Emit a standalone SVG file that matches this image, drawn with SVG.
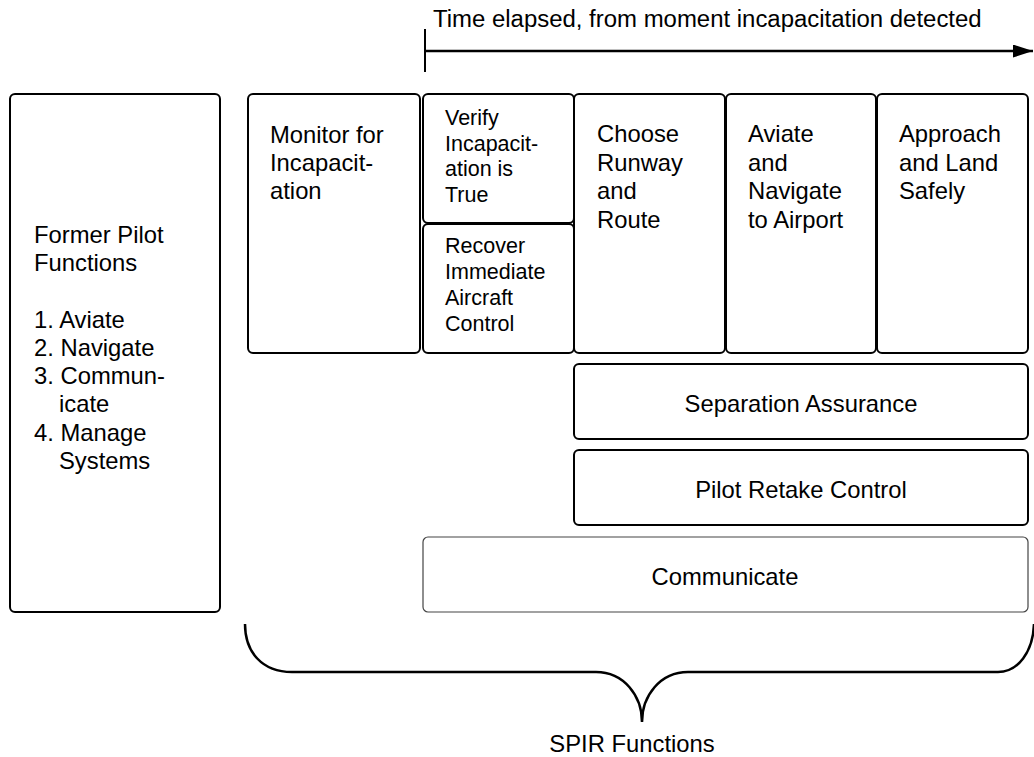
<svg xmlns="http://www.w3.org/2000/svg" width="1034" height="757" viewBox="0 0 1034 757">
<defs>
<style>
.box{fill:#fff;stroke:#000;stroke-width:2}
.thin{fill:#fff;stroke:#444;stroke-width:1.2}
text{font-family:"Liberation Sans",Arial,sans-serif;fill:#000}
.t{font-size:23.8px}
.s{font-size:21.5px}
.c{text-anchor:middle}
.ln{fill:none;stroke:#000;stroke-width:2.5}
</style>
<marker id="ah" markerWidth="20" markerHeight="13" refX="20" refY="6.5" orient="auto" markerUnits="userSpaceOnUse" viewBox="0 0 20 13">
<path d="M0,0 L20,6.5 L0,13 Z" fill="#000"/>
</marker>
</defs>
<rect width="1034" height="757" fill="#fff"/>

<g id="timeline">
<text x="433" y="27" font-size="23.95">Time elapsed, from moment incapacitation detected</text>
<line x1="425" y1="29" x2="425" y2="72" stroke="#000" stroke-width="2"/>
<line x1="425" y1="51" x2="1033" y2="51" stroke="#000" stroke-width="2.5" marker-end="url(#ah)"/>
</g>

<g id="former">
<rect class="box" x="10" y="94" width="210" height="518" rx="5"/>
<text class="t" x="34" y="243">Former Pilot</text>
<text class="t" x="34" y="271">Functions</text>
<text class="t" x="34" y="328">1. Aviate</text>
<text class="t" x="34" y="356">2. Navigate</text>
<text class="t" x="34" y="384">3. Commun-</text>
<text class="t" x="59" y="412">icate</text>
<text class="t" x="34" y="441">4. Manage</text>
<text class="t" x="59" y="469">Systems</text>
</g>

<g id="monitor">
<rect class="box" x="248" y="94" width="172" height="259" rx="5"/>
<text class="t" x="270" y="143">Monitor for</text>
<text class="t" x="270" y="171">Incapacit-</text>
<text class="t" x="270" y="199">ation</text>
</g>

<g id="verify">
<rect class="box" x="423" y="94" width="151" height="129" rx="5"/>
<text class="s" x="445" y="125">Verify</text>
<text class="s" x="445" y="151">Incapacit-</text>
<text class="s" x="445" y="176">ation is</text>
<text class="s" x="445" y="202">True</text>
</g>

<g id="recover">
<rect class="box" x="423" y="224" width="151" height="129" rx="5"/>
<text class="s" x="445" y="253">Recover</text>
<text class="s" x="445" y="279">Immediate</text>
<text class="s" x="445" y="305">Aircraft</text>
<text class="s" x="445" y="331">Control</text>
</g>

<g id="choose">
<rect class="box" x="574" y="94" width="151" height="259" rx="5"/>
<text class="t" x="597" y="142">Choose</text>
<text class="t" x="597" y="171">Runway</text>
<text class="t" x="597" y="199">and</text>
<text class="t" x="597" y="228">Route</text>
</g>

<g id="aviate">
<rect class="box" x="726" y="94" width="150" height="259" rx="5"/>
<text class="t" x="748" y="142">Aviate</text>
<text class="t" x="748" y="171">and</text>
<text class="t" x="748" y="199">Navigate</text>
<text class="t" x="748" y="228">to Airport</text>
</g>

<g id="approach">
<rect class="box" x="877" y="94" width="151" height="259" rx="5"/>
<text class="t" x="899" y="142">Approach</text>
<text class="t" x="899" y="171">and Land</text>
<text class="t" x="899" y="199">Safely</text>
</g>

<g id="separation">
<rect class="box" x="574" y="364" width="454" height="75" rx="5"/>
<text class="t c" x="801" y="412">Separation Assurance</text>
</g>

<g id="retake">
<rect class="box" x="574" y="450" width="454" height="75" rx="5"/>
<text class="t c" x="801" y="498">Pilot Retake Control</text>
</g>

<g id="communicate">
<rect class="thin" x="423" y="537" width="605" height="75" rx="5"/>
<text class="t c" x="725" y="585">Communicate</text>
</g>

<g id="connectors">
<path class="ln" d="M245,624 C245,652 262,672 292,672 L596,672 C624,672 642,696 642,722 C642,696 660,672 688,672 L998,672 C1018,672 1033,652 1034,624"/>
</g>

<g id="spir">
<text class="t c" x="632" y="752">SPIR Functions</text>
</g>
</svg>
